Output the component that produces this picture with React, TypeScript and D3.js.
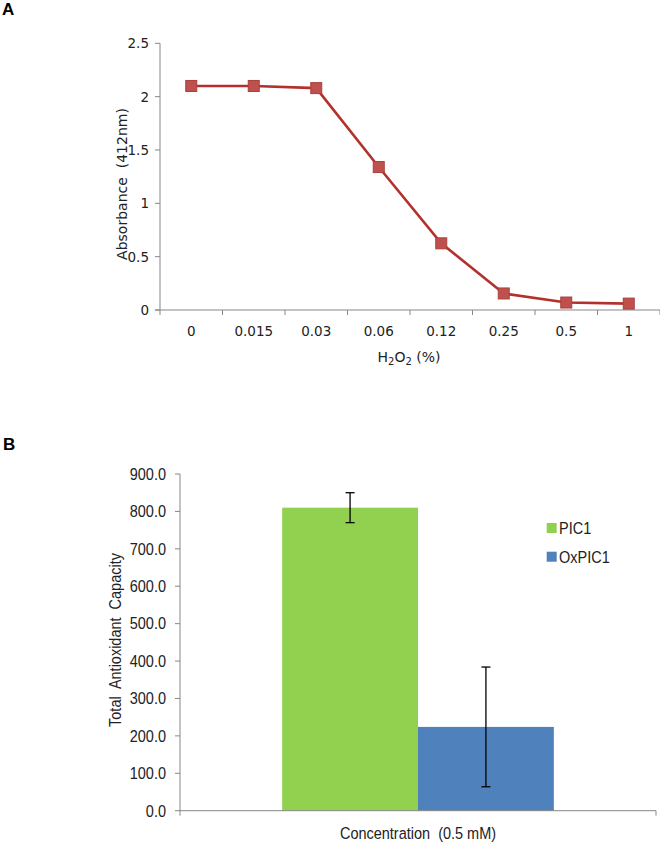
import React from "react";
import * as d3 from "d3";

// Panel A data
const concentrations = ["0", "0.015", "0.03", "0.06", "0.12", "0.25", "0.5", "1"];
const absorbance = [2.1, 2.1, 2.08, 1.34, 0.625, 0.155, 0.07, 0.06];
const absTicks = [0, 0.5, 1, 1.5, 2, 2.5];

// Panel B data
const groups = ["Concentration  (0.5 mM)"];
const seriesNames = ["PIC1", "OxPIC1"];
const capacity = [810, 224];
const capacityErr = [40, 160];
const capTicks = [0, 100, 200, 300, 400, 500, 600, 700, 800, 900];
const seriesColors = ["#92D050", "#4F81BD"];

const W = 660;
const H = 846;

export default function App() {
  // ---- Panel A scales
  const xA = d3.scaleBand<string>().domain(concentrations).range([160, 660]).padding(0);
  const yA = d3.scaleLinear().domain([0, 2.5]).range([310, 43.3]);
  const lineA = d3
    .line<number>()
    .x((_, i) => (xA(concentrations[i]) as number) + xA.bandwidth() / 2)
    .y((d) => yA(d));
  const fontA = "'DejaVu Sans', Verdana, sans-serif";
  const axisGray = "#878787";

  // ---- Panel B scales
  const xB = d3.scaleBand<string>().domain(groups).range([180, 656]).paddingInner(0).paddingOuter(0.376);
  const xSeries = d3.scaleBand<string>().domain(seriesNames).range([0, xB.bandwidth()]).padding(0);
  const yB = d3.scaleLinear().domain([0, 900]).range([810.7, 474]);
  const fontB = "'Liberation Sans', Arial, sans-serif";
  const sy = 1.12; // vertical stretch of panel B text

  const boundaries = d3.range(concentrations.length + 1).map((i) => 160 + i * xA.step());

  return (
    <svg width={W} height={H} style={{ position: "absolute", left: 0, top: 0, background: "#fff" }}>
      <rect x={0} y={0} width={W} height={H} fill="#fff" />
      {/* Panel labels */}
      <text x={2} y={15} fontFamily={fontB} fontWeight="bold" fontSize={17}>A</text>
      <text x={3} y={450} fontFamily={fontB} fontWeight="bold" fontSize={17}>B</text>

      {/* ===== Panel A ===== */}
      <g>
        <line x1={160} x2={160} y1={yA(2.5)} y2={yA(0)} stroke={axisGray} strokeWidth={1} />
        <line x1={155} x2={660} y1={yA(0)} y2={yA(0)} stroke={axisGray} strokeWidth={1} />
        {absTicks.map((t) => (
          <g key={t}>
            <line x1={155} x2={160} y1={yA(t)} y2={yA(t)} stroke={axisGray} />
            <text x={149} y={yA(t) + 5} textAnchor="end" fontFamily={fontA} fontSize={13.5} fill="#222">
              {t}
            </text>
          </g>
        ))}
        {boundaries.map((b, i) => (
          <line key={i} x1={b} x2={b} y1={yA(0)} y2={yA(0) + 5} stroke={axisGray} />
        ))}
        {concentrations.map((c) => (
          <text
            key={c}
            x={(xA(c) as number) + xA.bandwidth() / 2}
            y={336}
            textAnchor="middle"
            fontFamily={fontA}
            fontSize={13.5}
            fill="#222"
          >
            {c}
          </text>
        ))}
        <text x={409} y={362} textAnchor="middle" fontFamily={fontA} fontSize={14} fill="#222">
          H<tspan fontSize={10} dy={3}>2</tspan>
          <tspan dy={-3}>O</tspan>
          <tspan fontSize={10} dy={3}>2</tspan>
          <tspan dy={-3}> (%)</tspan>
        </text>
        <text
          transform={`translate(127,${184}) rotate(-90)`}
          textAnchor="middle"
          fontFamily={fontA}
          fontSize={14}
          fill="#222"
          style={{ whiteSpace: "pre" }}
        >
          Absorbance  (412nm)
        </text>
        <path d={lineA(absorbance) || ""} fill="none" stroke="#B3312D" strokeWidth={2.6} />
        {absorbance.map((v, i) => {
          const cx = (xA(concentrations[i]) as number) + xA.bandwidth() / 2;
          const cy = yA(v);
          return (
            <rect
              key={i}
              x={cx - 5.5}
              y={cy - 5.5}
              width={11}
              height={11}
              fill="#C0504D"
              stroke="#A8403C"
              strokeWidth={1}
            />
          );
        })}
      </g>

      {/* ===== Panel B ===== */}
      <g>
        {groups.map((g) =>
          seriesNames.map((s, i) => {
            const x0 = (xB(g) as number) + (xSeries(s) as number);
            return (
              <rect
                key={s}
                x={x0}
                y={yB(capacity[i])}
                width={xSeries.bandwidth()}
                height={yB(0) - yB(capacity[i])}
                fill={seriesColors[i]}
              />
            );
          })
        )}
        {groups.map((g) =>
          seriesNames.map((s, i) => {
            const cx = (xB(g) as number) + (xSeries(s) as number) + xSeries.bandwidth() / 2;
            const top = yB(capacity[i] + capacityErr[i]);
            const bot = yB(capacity[i] - capacityErr[i]);
            return (
              <g key={s} stroke="#000" strokeWidth={1.3}>
                <line x1={cx} x2={cx} y1={top} y2={bot} />
                <line x1={cx - 4.5} x2={cx + 4.5} y1={top} y2={top} />
                <line x1={cx - 4.5} x2={cx + 4.5} y1={bot} y2={bot} />
              </g>
            );
          })
        )}
        <line x1={180} x2={180} y1={yB(900)} y2={yB(0)} stroke={axisGray} />
        <line x1={180} x2={656} y1={yB(0)} y2={yB(0)} stroke={axisGray} />
        <line x1={656} x2={656} y1={yB(0)} y2={yB(0) + 5} stroke={axisGray} />
        <line x1={180} x2={180} y1={yB(0)} y2={yB(0) + 5} stroke={axisGray} />
        {capTicks.map((t) => (
          <g key={t}>
            <line x1={175} x2={180} y1={yB(t)} y2={yB(t)} stroke={axisGray} />
            <text
              transform={`translate(166,${yB(t) + 5.8}) scale(1,${sy})`}
              textAnchor="end"
              fontFamily={fontB}
              fontSize={14.5}
              fill="#222"
            >
              {t.toFixed(1)}
            </text>
          </g>
        ))}
        {groups.map((g) => (
          <text
            key={g}
            transform={`translate(${(xB(g) as number) + xB.bandwidth() / 2},839) scale(1,${sy})`}
            textAnchor="middle"
            fontFamily={fontB}
            fontSize={14.5}
            fill="#222"
            style={{ whiteSpace: "pre" }}
          >
            {g}
          </text>
        ))}
        <text
          transform={`translate(121,${640}) rotate(-90) scale(1,${sy})`}
          textAnchor="middle"
          fontFamily={fontB}
          fontSize={14.5}
          fill="#222"
          style={{ whiteSpace: "pre" }}
        >
          Total  Antioxidant  Capacity
        </text>
        {seriesNames.map((s, i) => (
          <g key={s}>
            <rect x={546.7} y={523 + i * 28.7} width={10} height={10} fill={seriesColors[i]} />
            <text
              transform={`translate(559,${534 + i * 28.7}) scale(1,${sy})`}
              fontFamily={fontB}
              fontSize={14.5}
              fill="#222"
            >
              {s}
            </text>
          </g>
        ))}
      </g>
    </svg>
  );
}
